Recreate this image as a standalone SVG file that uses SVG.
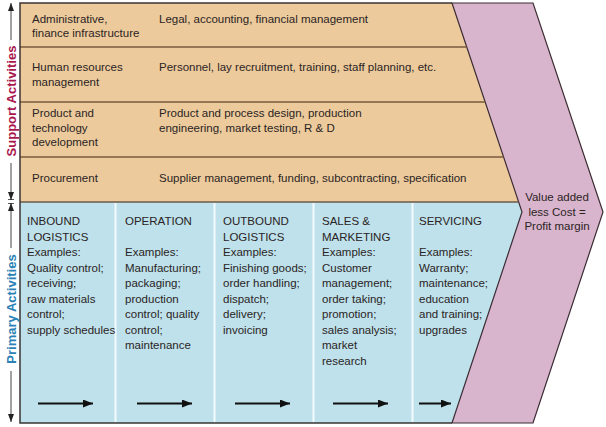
<svg xmlns="http://www.w3.org/2000/svg" width="606" height="427" viewBox="0 0 606 427">
<defs>
<style>
text{font-family:"Liberation Sans",Arial,sans-serif;font-size:11.5px;fill:#2b2424}
.side{font-size:13px;font-weight:bold}
.sep{stroke:#7a5a3e;stroke-width:1.5;fill:none}
.col{stroke:#f4fbfd;stroke-width:2;fill:none}
.flow{stroke:#111;stroke-width:2;fill:none}
.dim{stroke:#444;stroke-width:1;fill:none}
</style>
<marker id="ah" viewBox="0 0 10 8" refX="10" refY="4" markerWidth="10" markerHeight="8" markerUnits="userSpaceOnUse" orient="auto">
<path d="M0,0 L10,4 L0,8 Z" fill="#111"/>
</marker>
<marker id="dh" viewBox="0 0 8 6" refX="8" refY="3" markerWidth="8" markerHeight="6" markerUnits="userSpaceOnUse" orient="auto">
<path d="M0,0 L8,3 L0,6 Z" fill="#222"/>
</marker>
<marker id="dt" viewBox="0 0 8 6" refX="8" refY="3" markerWidth="8" markerHeight="6" markerUnits="userSpaceOnUse" orient="auto">
<path d="M0,0 L8,3 L0,6 Z M7.3,0 L8,0 L8,6 L7.3,6 Z" fill="#222"/>
</marker>
</defs>
<rect width="606" height="427" fill="#fff"/>

<g id="support-area">
<polygon points="20,3 452,3 518.6,202 20,202" fill="#ecca9c"/>
</g>
<g id="primary-area">
<polygon points="20,202 518.6,202 522,212 452,423 20,423" fill="#bee1eb"/>
</g>
<g id="margin">
<polygon points="452,3 533,3 603,212 533,423 452,423 522,212" fill="#d9b4cd" stroke="#3b2c33" stroke-width="1.2"/>
<text x="557" y="201" text-anchor="middle">Value added</text>
<text x="557" y="215.5" text-anchor="middle">less Cost =</text>
<text x="557" y="230" text-anchor="middle">Profit margin</text>
</g>

<g id="separators">
<line class="sep" x1="20" y1="47" x2="466.7" y2="47"/>
<line class="sep" x1="20" y1="102" x2="485.1" y2="102"/>
<line class="sep" x1="20" y1="157" x2="503.6" y2="157"/>
<line x1="20" y1="202" x2="518.6" y2="202" stroke="#6b5a48" stroke-width="1.5"/>
<line class="col" x1="115.5" y1="203" x2="115.5" y2="422"/>
<line class="col" x1="214.5" y1="203" x2="214.5" y2="422"/>
<line class="col" x1="313.5" y1="203" x2="313.5" y2="422"/>
<line class="col" x1="412.5" y1="203" x2="412.5" y2="422"/>
<polyline points="452,3 20,3 20,423 452,423" fill="none" stroke="#3b3535" stroke-width="1.5"/>
</g>

<g id="admin">
<text x="32" y="22.5">Administrative,</text>
<text x="32" y="37">finance infrastructure</text>
<text x="159" y="22.5">Legal, accounting, financial management</text>
</g>
<g id="hr">
<text x="32" y="71">Human resources</text>
<text x="32" y="85.5">management</text>
<text x="159" y="71">Personnel, lay recruitment, training, staff planning, etc.</text>
</g>
<g id="tech">
<text x="32" y="117">Product and</text>
<text x="32" y="131.7">technology</text>
<text x="32" y="146.4">development</text>
<text x="159" y="117">Product and process design, production</text>
<text x="159" y="131.7">engineering, market testing, R &amp; D</text>
</g>
<g id="procurement">
<text x="32" y="181.5">Procurement</text>
<text x="159" y="181.5">Supplier management, funding, subcontracting, specification</text>
</g>

<g id="inbound">
<text x="27" y="225">INBOUND</text>
<text x="27" y="240.5">LOGISTICS</text>
<text x="27" y="256">Examples:</text>
<text x="27" y="271.5">Quality control;</text>
<text x="27" y="287">receiving;</text>
<text x="27" y="302.5">raw materials</text>
<text x="27" y="318">control;</text>
<text x="27" y="333.5">supply schedules</text>
</g>
<g id="operation">
<text x="125" y="225">OPERATION</text>
<text x="125" y="256">Examples:</text>
<text x="125" y="271.5">Manufacturing;</text>
<text x="125" y="287">packaging;</text>
<text x="125" y="302.5">production</text>
<text x="125" y="318">control; quality</text>
<text x="125" y="333.5">control;</text>
<text x="125" y="349">maintenance</text>
</g>
<g id="outbound">
<text x="223" y="225">OUTBOUND</text>
<text x="223" y="240.5">LOGISTICS</text>
<text x="223" y="256">Examples:</text>
<text x="223" y="271.5">Finishing goods;</text>
<text x="223" y="287">order handling;</text>
<text x="223" y="302.5">dispatch;</text>
<text x="223" y="318">delivery;</text>
<text x="223" y="333.5">invoicing</text>
</g>
<g id="sales">
<text x="322" y="225">SALES &amp;</text>
<text x="322" y="240.5">MARKETING</text>
<text x="322" y="256">Examples:</text>
<text x="322" y="271.5">Customer</text>
<text x="322" y="287">management;</text>
<text x="322" y="302.5">order taking;</text>
<text x="322" y="318">promotion;</text>
<text x="322" y="333.5">sales analysis;</text>
<text x="322" y="349">market</text>
<text x="322" y="364.5">research</text>
</g>
<g id="servicing">
<text x="419" y="225">SERVICING</text>
<text x="419" y="256">Examples:</text>
<text x="419" y="271.5">Warranty;</text>
<text x="419" y="287">maintenance;</text>
<text x="419" y="302.5">education</text>
<text x="419" y="318">and training;</text>
<text x="419" y="333.5">upgrades</text>
</g>

<g id="connectors">
<line class="flow" x1="38" y1="403.5" x2="93" y2="403.5" marker-end="url(#ah)"/>
<line class="flow" x1="137" y1="403.5" x2="192" y2="403.5" marker-end="url(#ah)"/>
<line class="flow" x1="235" y1="403.5" x2="290" y2="403.5" marker-end="url(#ah)"/>
<line class="flow" x1="333" y1="403.5" x2="388" y2="403.5" marker-end="url(#ah)"/>
<line class="flow" x1="419" y1="403.5" x2="451" y2="403.5" marker-end="url(#ah)"/>
<line class="dim" x1="11" y1="40" x2="11" y2="3" marker-end="url(#dh)"/>
<line class="dim" x1="11" y1="163" x2="11" y2="200" marker-end="url(#dt)"/>
<line class="dim" x1="11" y1="248" x2="11" y2="203" marker-end="url(#dt)"/>
<line class="dim" x1="11" y1="371" x2="11" y2="422" marker-end="url(#dh)"/>
</g>

<g id="side-labels">
<text class="side" x="0" y="0" transform="translate(15.5,101) rotate(-90)" text-anchor="middle" style="fill:#a8174d">Support Activities</text>
<text class="side" x="0" y="0" transform="translate(15.5,309) rotate(-90)" text-anchor="middle" style="fill:#2a82b6">Primary Activities</text>
</g>
</svg>
